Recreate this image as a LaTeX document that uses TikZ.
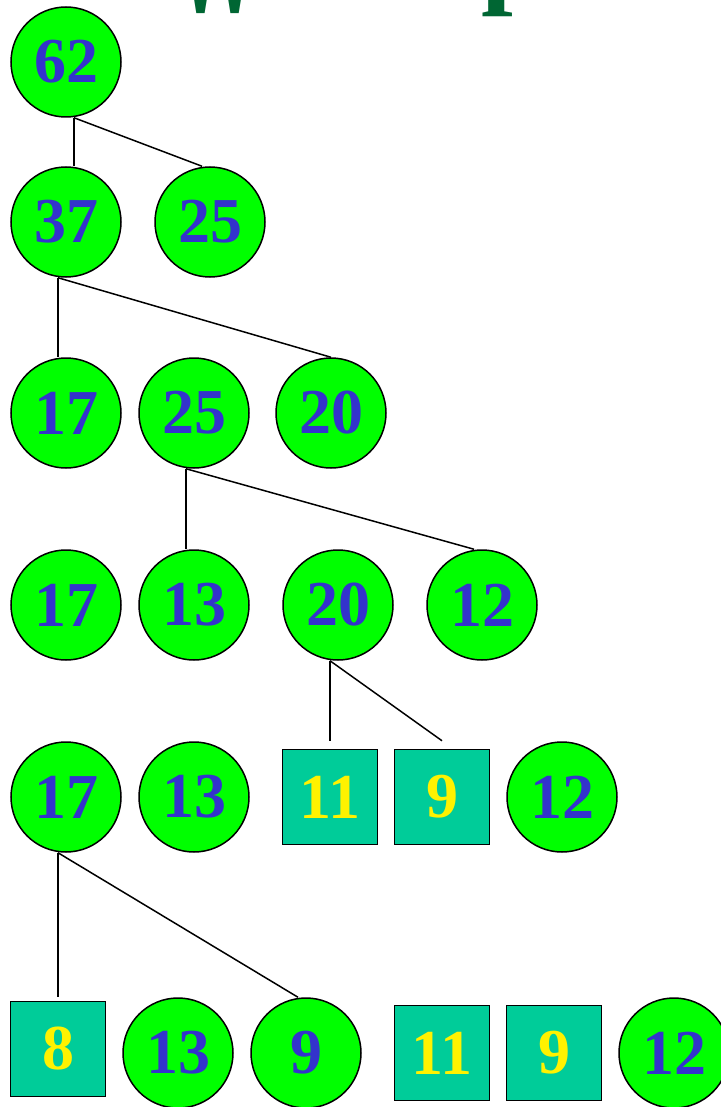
\documentclass[tikz,border=0pt]{standalone}
\usepackage{fontspec}
\setmainfont{Liberation Serif}
\newfontfamily\ttlfont{Liberation Serif}
\usetikzlibrary{calc}

\definecolor{wtgreen}{RGB}{0,255,0}
\definecolor{wtblue}{RGB}{51,51,204}
\definecolor{leafteal}{RGB}{0,204,153}
\definecolor{titlegreen}{RGB}{0,102,51}

\tikzset{
    wt/.style={
        circle,
        draw=black,
        line width=0.75pt,
        fill=wtgreen,
        minimum size=55pt,
        inner sep=0pt,
        text=wtblue,
        font=\fontsize{32}{32}\selectfont\bfseries
    },
    leaf/.style={
        rectangle,
        draw=black,
        line width=0.75pt,
        fill=leafteal,
        minimum size=47.5pt,
        inner sep=0pt,
        text=yellow,
        font=\fontsize{32}{32}\selectfont\bfseries
    },
    branch/.style={
        line width=0.75pt
    }
}

\begin{document}
\begin{tikzpicture}[
    x=0.5pt,
    y=-0.5pt
]

\useasboundingbox (0,0) rectangle (721,1107);

% title, cut off by the top edge
\node[anchor=base west, inner sep=0pt, text=titlegreen,
    font=\ttlfont\fontsize{82}{82}\selectfont\bfseries] (ttlq) at (172,83)
    {\char34};
\node[anchor=base west, inner sep=0pt, text=titlegreen,
    font=\ttlfont\fontsize{57}{57}\selectfont\bfseries] (ttlp) at (481,-7)
    {p};

% row 1
\node[wt] (n62) at (66,62) {62};

% row 2
\node[wt] (n37) at (66,222) {37};
\node[wt] (n25a) at (210,222) {25};

\draw[branch]
    ([xshift=4pt]n62.south) -- ([xshift=4pt]n37.north);
\draw[branch]
    ([xshift=4pt]n62.south) -- ([xshift=-4pt]n25a.north);

% row 3
\node[wt] (n17a) at (66,413) {17};
\node[wt] (n25b) at (194,413) {25};
\node[wt] (n20a) at (331,413) {20};

\draw[branch]
    ([xshift=-4pt]n37.south) -- ([xshift=-4pt]n17a.north);
\draw[branch]
    ([xshift=-4pt]n37.south) -- (n20a.north);

% row 4
\node[wt] (n17b) at (66,605) {17};
\node[wt] (n13a) at (194,605) {13};
\node[wt] (n20b) at (338,605) {20};
\node[wt] (n12a) at (482,605) {12};

\draw[branch]
    ([xshift=-4pt]n25b.south) -- ([xshift=-4pt]n13a.north);
\draw[branch]
    ([xshift=-4pt]n25b.south) -- ([xshift=-4pt]n12a.north);

% row 5
\node[wt] (n17c) at (66,797) {17};
\node[wt] (n13b) at (194,797) {13};
\node[leaf] (n11a) at (330,797) {11};
\node[leaf] (n9a) at (442,797) {9};
\node[wt] (n12b) at (562,797) {12};

\draw[branch]
    ([xshift=-4pt]n20b.south) -- ([yshift=4pt]n11a.north);
\draw[branch]
    ([xshift=-4pt]n20b.south) -- ([yshift=4pt]n9a.north);

% row 6
\node[leaf] (n8) at (58,1049) {8};
\node[wt] (n13c) at (178,1053) {13};
\node[wt] (n9b) at (306,1053) {9};
\node[leaf] (n11b) at (442,1053) {11};
\node[leaf] (n9c) at (554,1053) {9};
\node[wt] (n12c) at (674,1053) {12};

\draw[branch]
    ([xshift=-4pt]n17c.south) -- ([yshift=2pt]n8.north);
\draw[branch]
    ([xshift=-4pt]n17c.south) -- ([xshift=-4pt]n9b.north);

\end{tikzpicture}
\end{document}
